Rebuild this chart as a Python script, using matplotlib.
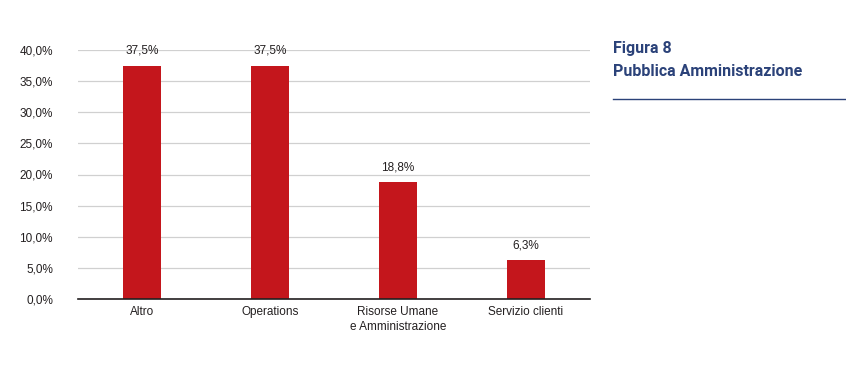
import matplotlib.pyplot as plt
from matplotlib.ticker import FuncFormatter

categories = ["Altro", "Operations", "Risorse Umane\ne Amministrazione", "Servizio clienti"]
values = [37.5, 37.5, 18.8, 6.3]
yticks = [0, 5, 10, 15, 20, 25, 30, 35, 40]

RED = "#c4161c"
BLUE = "#2b4279"
TXT = "#231f20"

plt.rcParams["font.family"] = ["Liberation Sans", "DejaVu Sans"]

fig = plt.figure(figsize=(8.46, 3.76), dpi=100)
ax = fig.add_axes([78 / 846, 1 - 299 / 376, 512 / 846, 249 / 376])

x = range(len(categories))
ax.bar(x, values, width=0.3, color=RED, zorder=3)
for xi, v in zip(x, values):
    ax.text(xi, v + 1.4, f"{v:.1f}%".replace(".", ","), ha="center", va="bottom",
            fontsize=8.5, color=TXT)

ax.set_xlim(-0.5, 3.5)
ax.set_ylim(0, 40)
ax.set_yticks(yticks)
ax.yaxis.set_major_formatter(FuncFormatter(lambda v, p: f"{v:.1f}%".replace(".", ",")))
ax.set_xticks(list(x))
ax.set_xticklabels(categories, linespacing=1.3)
ax.tick_params(axis="both", length=0, labelsize=8.5, colors=TXT)
ax.tick_params(axis="y", pad=18)
ax.tick_params(axis="x", pad=5)
ax.grid(axis="y", color="#d0d0d0", linewidth=0.9, zorder=0)
for s in ["top", "right", "left"]:
    ax.spines[s].set_visible(False)
ax.spines["bottom"].set_color(TXT)
ax.spines["bottom"].set_linewidth(1.2)
ax.spines["bottom"].set_zorder(4)

fig.text(613 / 846, 1 - 41 / 376, "Figura 8\nPubblica Amministrazione", ha="left", va="top",
         fontsize=11.5, fontweight="bold", color=BLUE, family="Roboto", linespacing=1.7)
fig.add_artist(plt.Line2D([613 / 846, 846 / 846], [1 - 99 / 376, 1 - 99 / 376],
                          color=BLUE, linewidth=1.0))

fig.savefig("out.png", dpi=100)
